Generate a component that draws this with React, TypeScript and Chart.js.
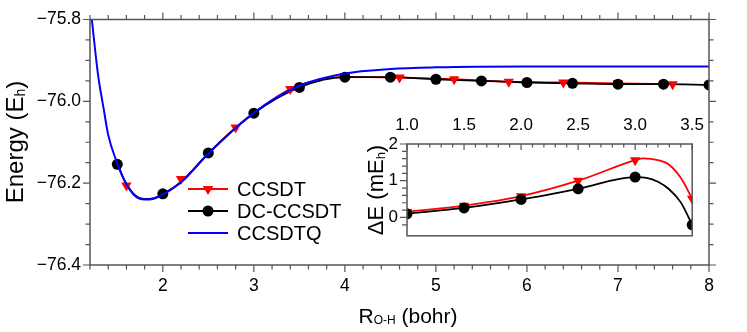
import React, { useEffect, useRef } from 'react';
import { Chart, registerables } from 'chart.js';
Chart.register(...registerables);

const FONT = '"Liberation Sans", Arial, Helvetica, sans-serif';

// ---------- main panel data ----------
// CCSDT markers
const ccsdtR = [1.6, 2.2, 2.8, 3.4, 4.0, 4.6, 5.2, 5.8, 6.4, 7.0, 7.6];
const ccsdtE = [-76.206, -76.19, -76.064, -75.97, -75.938, -75.942, -75.946, -75.952, -75.954, -75.956, -75.958];
// CCSDT curve (as traced in the picture)
const ccsdtCurveR = [1.6, 1.69, 1.8, 1.9, 2.0, 2.2, 2.5, 2.8, 3.0, 3.4, 4.0, 4.6, 5.2, 5.8, 6.4, 7.0, 7.6];
const ccsdtCurveE = [-76.203, -76.229, -76.239, -76.237, -76.227, -76.197, -76.127, -76.064, -76.029, -75.97, -75.94, -75.942, -75.946, -75.952, -75.954, -75.956, -75.958];

// DC-CCSDT markers
const dcR = [1.5, 2.0, 2.5, 3.0, 3.5, 4.0, 4.5, 5.0, 5.5, 6.0, 6.5, 7.0, 7.5, 8.0];
const dcE = [-76.154, -76.226, -76.126, -76.029, -75.966, -75.941, -75.941, -75.946, -75.95, -75.954, -75.956, -75.958, -75.958, -75.96];
// DC-CCSDT curve (as traced in the picture)
const dcCurveR = [1.5, 1.58, 1.69, 1.8, 1.9, 2.0, 2.2, 2.5, 3.0, 3.5, 4.0, 4.5, 5.0, 5.5, 6.0, 6.5, 7.0, 7.5, 8.0];
const dcCurveE = [-76.15, -76.194, -76.229, -76.239, -76.237, -76.227, -76.197, -76.127, -76.029, -75.966, -75.941, -75.941, -75.946, -75.95, -75.954, -75.956, -75.958, -75.958, -75.96];

// CCSDTQ curve
const qR = [1.22, 1.29, 1.35, 1.4, 1.49, 1.58, 1.69, 1.8, 1.9, 2.0, 2.2, 2.5, 3.0, 3.5, 4.0, 4.5, 5.0, 6.0, 7.0, 8.0];
const qE = [-75.8, -75.938, -76.018, -76.082, -76.146, -76.194, -76.23, -76.24, -76.238, -76.228, -76.198, -76.128, -76.028, -75.962, -75.932, -75.921, -75.917, -75.915, -75.915, -75.915];

const xTicksMain = [2, 3, 4, 5, 6, 7, 8];
const yTicksMain = [-75.8, -76.0, -76.2, -76.4];

// ---------- inset data ----------
const insetR = [1.0, 1.5, 2.0, 2.5, 3.0, 3.5];
const insetCcsdt = [0.15, 0.32, 0.58, 1.0, 1.56, 0.51];
const insetDc = [0.1, 0.26, 0.49, 0.78, 1.1, -0.2];

const insetCcsdtCurveR = [1.0, 1.5, 2.0, 2.5, 3.0, 3.07, 3.2, 3.3, 3.4, 3.5];
const insetCcsdtCurve = [0.15, 0.32, 0.58, 1.0, 1.56, 1.61, 1.56, 1.43, 1.08, 0.51];
const insetDcCurveR = [1.0, 1.5, 2.0, 2.5, 3.0, 3.1, 3.2, 3.3, 3.4, 3.5];
const insetDcCurve = [0.1, 0.26, 0.49, 0.78, 1.1, 1.08, 0.97, 0.76, 0.41, -0.2];

const xTicksInset = [1.0, 1.5, 2.0, 2.5, 3.0, 3.5];
const yTicksInset = [0, 1, 2];

const legendLabels = ['CCSDT', 'DC-CCSDT', 'CCSDTQ'];

const RED = '#ff0000';
const BLACK = '#000000';
const BLUE = '#0000ff';
const AXIS = '#555555';

const pts = (xs: number[], ys: number[]) => xs.map((x, i) => ({ x, y: ys[i] }));
const near = (arr: number[], v: number) => arr.find((t) => Math.abs(t - v) < 1e-6);
const onStep = (v: number, step: number) => Math.abs(v / step - Math.round(v / step)) < 1e-6;

type Part = { t: string; size: number; dy?: number };
function drawRich(ctx: CanvasRenderingContext2D, parts: Part[], cx: number, by: number) {
  let total = 0;
  for (const p of parts) {
    ctx.font = `${p.size}px ${FONT}`;
    total += ctx.measureText(p.t).width;
  }
  let x = cx - total / 2;
  ctx.textAlign = 'left';
  ctx.textBaseline = 'alphabetic';
  for (const p of parts) {
    ctx.font = `${p.size}px ${FONT}`;
    ctx.fillText(p.t, x, by + (p.dy || 0));
    x += ctx.measureText(p.t).width;
  }
}

function drawTri(ctx: CanvasRenderingContext2D, x: number, y: number, r: number) {
  ctx.beginPath();
  for (let k = 0; k < 3; k++) {
    const a = Math.PI + (k * 2 * Math.PI) / 3;
    const px = x + Math.sin(a) * r;
    const py = y - Math.cos(a) * r;
    if (k === 0) ctx.moveTo(px, py);
    else ctx.lineTo(px, py);
  }
  ctx.closePath();
  ctx.fill();
}

const mainPlugin = {
  id: 'mainDeco',
  afterDraw(chart: any) {
    const ctx: CanvasRenderingContext2D = chart.ctx;
    const { left, right, top, bottom } = chart.chartArea;
    const xs = chart.scales.x;
    const ys = chart.scales.y;
    ctx.save();
    ctx.strokeStyle = AXIS;
    ctx.lineWidth = 1.5;
    ctx.strokeRect(left, top, right - left, bottom - top);
    ctx.lineWidth = 1.2;
    ctx.beginPath();
    for (const t of xs.ticks) {
      if (!onStep(t.value, 0.2)) continue;
      const px = xs.getPixelForValue(t.value);
      const len = near(xTicksMain, t.value) !== undefined ? 7 : 4.5;
      ctx.moveTo(px, bottom);
      ctx.lineTo(px, bottom + len);
      ctx.moveTo(px, top);
      ctx.lineTo(px, top - len);
    }
    for (const t of ys.ticks) {
      if (!onStep(t.value, 0.05)) continue;
      const py = ys.getPixelForValue(t.value);
      const len = near(yTicksMain, t.value) !== undefined ? 7 : 4.5;
      ctx.moveTo(left, py);
      ctx.lineTo(left - len, py);
      ctx.moveTo(right, py);
      ctx.lineTo(right + len, py);
    }
    ctx.stroke();

    // axis titles
    ctx.fillStyle = '#000';
    drawRich(ctx, [
      { t: 'R', size: 21 },
      { t: 'O-H', size: 12, dy: 1 },
      { t: ' (bohr)', size: 21 },
    ], 408, 323);
    ctx.save();
    ctx.translate(23, 142);
    ctx.rotate(-Math.PI / 2);
    drawRich(ctx, [
      { t: 'Energy (E', size: 24 },
      { t: 'h', size: 14, dy: 2 },
      { t: ')', size: 24 },
    ], 0, 0);
    ctx.restore();

    // legend
    const rows = [189, 211, 233];
    const cols = [RED, BLACK, BLUE];
    rows.forEach((ry, i) => {
      ctx.strokeStyle = cols[i];
      ctx.lineWidth = 2;
      ctx.beginPath();
      ctx.moveTo(188, ry);
      ctx.lineTo(228, ry);
      ctx.stroke();
      ctx.fillStyle = cols[i];
      if (i === 0) drawTri(ctx, 208, ry, 6);
      if (i === 1) {
        ctx.beginPath();
        ctx.arc(208, ry, 5.5, 0, Math.PI * 2);
        ctx.fill();
      }
      ctx.fillStyle = '#000';
      ctx.font = `20px ${FONT}`;
      ctx.textAlign = 'left';
      ctx.textBaseline = 'middle';
      ctx.fillText(legendLabels[i], 237, ry + 1);
    });
    ctx.restore();
  },
};

const insetPlugin = {
  id: 'insetDeco',
  beforeDatasetsDraw(chart: any) {
    const ctx: CanvasRenderingContext2D = chart.ctx;
    const { left, right, top, bottom } = chart.chartArea;
    ctx.save();
    ctx.fillStyle = '#ffffff';
    ctx.fillRect(left, top, right - left, bottom - top);
    ctx.restore();
  },
  afterDraw(chart: any) {
    const ctx: CanvasRenderingContext2D = chart.ctx;
    const { left, right, top, bottom } = chart.chartArea;
    const xs = chart.scales.x;
    const ys = chart.scales.y;
    ctx.save();
    ctx.strokeStyle = AXIS;
    ctx.lineWidth = 1.5;
    ctx.strokeRect(left, top, right - left, bottom - top);
    ctx.lineWidth = 1.2;
    ctx.beginPath();
    for (const t of xs.ticks) {
      if (!onStep(t.value, 0.1)) continue;
      const px = xs.getPixelForValue(t.value);
      const len = near(xTicksInset, t.value) !== undefined ? 6 : 3.5;
      ctx.moveTo(px, top);
      ctx.lineTo(px, top + len);
    }
    for (const t of ys.ticks) {
      if (!onStep(t.value, 0.2)) continue;
      const py = ys.getPixelForValue(t.value);
      const len = near(yTicksInset, t.value) !== undefined ? 7 : 5;
      ctx.moveTo(left, py);
      ctx.lineTo(left - len, py);
    }
    ctx.stroke();
    ctx.fillStyle = '#000';
    ctx.save();
    ctx.translate(43, 90);
    ctx.rotate(-Math.PI / 2);
    drawRich(ctx, [
      { t: '\u0394E (mE', size: 22 },
      { t: 'h', size: 13, dy: 2 },
      { t: ')', size: 22 },
    ], 0, 0);
    ctx.restore();
    ctx.restore();
  },
};

export default function App() {
  const mainRef = useRef<HTMLCanvasElement>(null);
  const insetRef = useRef<HTMLCanvasElement>(null);

  useEffect(() => {
    const tickFont = { family: FONT, size: 17.5 };
    const main = new Chart(mainRef.current as HTMLCanvasElement, {
      type: 'line',
      data: {
        datasets: [
          {
            label: 'CCSDTQ',
            data: pts(qR, qE),
            borderColor: BLUE,
            borderWidth: 2,
            pointRadius: 0,
            cubicInterpolationMode: 'monotone',
          },
          {
            label: 'DC-CCSDT',
            data: pts(dcR, dcE),
            showLine: false,
            pointRadius: 5.5,
            pointBorderWidth: 0,
            pointBackgroundColor: BLACK,
            backgroundColor: BLACK,
            borderColor: BLACK,
          },
          {
            label: 'CCSDT',
            data: pts(ccsdtR, ccsdtE),
            showLine: false,
            pointStyle: 'triangle',
            rotation: 180,
            pointRadius: 6,
            pointBorderWidth: 0,
            pointBackgroundColor: RED,
            backgroundColor: RED,
            borderColor: RED,
          },
          {
            label: 'DC-CCSDT curve',
            data: pts(dcCurveR, dcCurveE),
            borderColor: BLACK,
            borderWidth: 1.8,
            pointRadius: 0,
            cubicInterpolationMode: 'monotone',
          },
          {
            label: 'CCSDT curve',
            data: pts(ccsdtCurveR, ccsdtCurveE),
            borderColor: RED,
            borderWidth: 1.8,
            pointRadius: 0,
            cubicInterpolationMode: 'monotone',
          },
        ],
      } as any,
      options: {
        responsive: false,
        animation: false,
        devicePixelRatio: 1,
        events: [],
        layout: { padding: { top: 14, right: 38, left: 0, bottom: 0 } },
        plugins: { legend: { display: false }, tooltip: { enabled: false } },
        scales: {
          x: {
            type: 'linear',
            position: 'bottom',
            min: 1.2,
            max: 8,
            afterFit: (s: any) => {
              s.height = 67;
            },
            grid: { display: false, drawTicks: false },
            border: { display: false },
            ticks: {
              stepSize: 0.2,
              autoSkip: false,
              maxRotation: 0,
              padding: 11,
              color: '#000',
              font: tickFont,
              callback: (v: any) => {
                const m = near(xTicksMain, Number(v));
                return m === undefined ? '' : String(m);
              },
            },
          },
          y: {
            type: 'linear',
            min: -76.4,
            max: -75.8,
            afterFit: (s: any) => {
              s.width = 90;
            },
            grid: { display: false, drawTicks: false },
            border: { display: false },
            ticks: {
              stepSize: 0.05,
              autoSkip: false,
              padding: 9,
              color: '#000',
              font: tickFont,
              callback: (v: any) => {
                const m = near(yTicksMain, Number(v));
                return m === undefined ? '' : '\u2212' + Math.abs(m).toFixed(1);
              },
            },
          },
        },
      } as any,
      plugins: [mainPlugin],
    });

    const inset = new Chart(insetRef.current as HTMLCanvasElement, {
      type: 'line',
      data: {
        datasets: [
          {
            label: 'DC pts',
            data: pts(insetR, insetDc),
            showLine: false,
            pointRadius: 5.5,
            pointBorderWidth: 0,
            pointBackgroundColor: BLACK,
            backgroundColor: BLACK,
            borderColor: BLACK,
          },
          {
            label: 'CCSDT pts',
            data: pts(insetR, insetCcsdt),
            showLine: false,
            pointStyle: 'triangle',
            rotation: 180,
            pointRadius: 6,
            pointBorderWidth: 0,
            pointBackgroundColor: RED,
            backgroundColor: RED,
            borderColor: RED,
          },
          {
            label: 'DC line',
            data: pts(insetDcCurveR, insetDcCurve),
            borderColor: BLACK,
            borderWidth: 1.8,
            pointRadius: 0,
            cubicInterpolationMode: 'monotone',
          },
          {
            label: 'CCSDT line',
            data: pts(insetCcsdtCurveR, insetCcsdtCurve),
            borderColor: RED,
            borderWidth: 1.8,
            pointRadius: 0,
            cubicInterpolationMode: 'monotone',
          },
        ],
      } as any,
      options: {
        responsive: false,
        animation: false,
        devicePixelRatio: 1,
        events: [],
        layout: { padding: { top: 0, right: 17, left: 0, bottom: 6 } },
        plugins: { legend: { display: false }, tooltip: { enabled: false } },
        scales: {
          x: {
            type: 'linear',
            position: 'top',
            min: 1.0,
            max: 3.5,
            afterFit: (s: any) => {
              s.height = 44;
            },
            grid: { display: false, drawTicks: false },
            border: { display: false },
            ticks: {
              stepSize: 0.1,
              autoSkip: false,
              maxRotation: 0,
              padding: 8,
              color: '#000',
              font: { family: FONT, size: 17 },
              callback: (v: any) => {
                const m = near(xTicksInset, Number(v));
                return m === undefined ? '' : m.toFixed(1);
              },
            },
          },
          y: {
            type: 'linear',
            min: -0.5,
            max: 2,
            afterFit: (s: any) => {
              s.width = 67;
            },
            grid: { display: false, drawTicks: false },
            border: { display: false },
            ticks: {
              stepSize: 0.2,
              autoSkip: false,
              padding: 9,
              color: '#000',
              font: { family: FONT, size: 17 },
              callback: (v: any) => {
                const m = near(yTicksInset, Number(v));
                return m === undefined ? '' : String(m);
              },
            },
          },
        },
      } as any,
      plugins: [insetPlugin],
    });

    return () => {
      main.destroy();
      inset.destroy();
    };
  }, []);

  return (
    <div style={{ position: 'fixed', left: 0, top: 0, width: 747, height: 332, background: '#fff' }}>
      <canvas ref={mainRef} width={747} height={332} style={{ position: 'absolute', left: 0, top: 0, width: 747, height: 332 }} />
      <canvas ref={insetRef} width={372} height={155} style={{ position: 'absolute', left: 340, top: 100, width: 372, height: 155 }} />
    </div>
  );
}
